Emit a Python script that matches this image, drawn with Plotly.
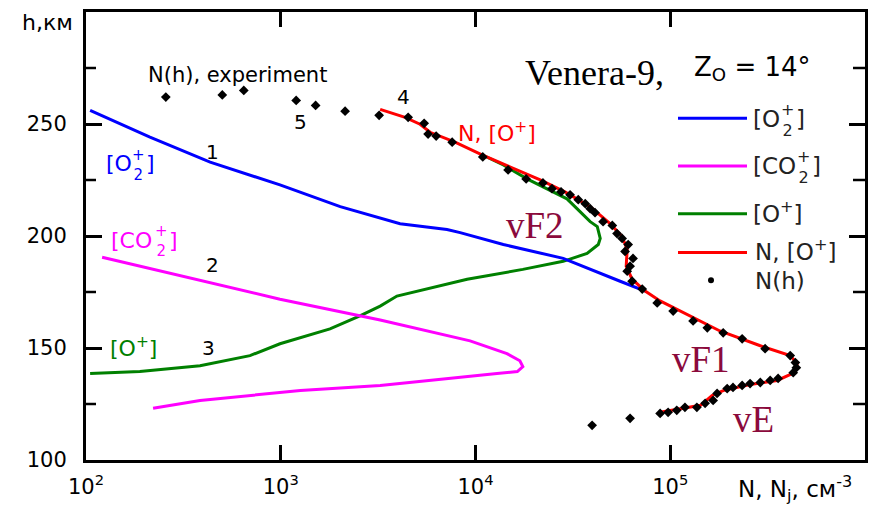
import math
import plotly.graph_objects as go

# ---------------- data ----------------
# experimental N(h) points
exp_N = [257, 501, 646, 1200, 1510, 2140, 3200, 4510, 5450, 5710, 6280, 7590, 10900, 14700,
         18200, 22200, 24700, 27500, 30600, 33700, 36600, 38800, 41100, 45200, 50400, 53300,
         56600, 60800, 58600, 64400, 62200, 60100, 63700, 71800, 85700, 103500, 131000, 155000,
         187000, 234000, 307000, 413000, 439000, 444000, 428000, 358000, 326000, 290000, 257000,
         234000, 210000, 196000, 174000, 166000, 151000, 137000, 119000, 108000, 97500, 88700,
         62200, 39700]
exp_h = [262, 263, 265, 260.5, 258.3, 255.7, 253.9, 253.0, 250.3, 245.5, 244.6, 241.9, 235.3, 229.5,
         225.5, 223.7, 221.1, 219.7, 218.4, 216.2, 214.4, 212.2, 210.4, 206.4, 204.7, 201.1,
         198.9, 196.2, 193.1, 190.0, 186.5, 184.3, 179.8, 176.3, 170.1, 166.5, 162.1, 159.0,
         156.8, 154.1, 149.7, 146.6, 143.5, 141.2, 139.0, 136.4, 135.5, 134.6, 134.1,
         133.3, 132.4, 131.9, 129.7, 126.6, 125.3, 123.5, 123.5, 122.2, 121.3, 120.8,
         118.6, 115.5]

# model N = [O+] total (curve 4)
tot_N = [3240, 4350, 5190, 5850, 7850, 10600, 15100, 21500, 28800, 38800, 49100, 56600, 60100,
         59400, 63700, 74300, 88700, 126500, 180000, 290000, 413000, 449000, 423000, 354000,
         257000, 187000, 164000, 143000, 119000, 88700]
tot_h = [256.5, 253.0, 249.9, 246.3, 241.9, 236.6, 230.8, 225.1, 219.7, 213.1, 205.5, 199.8, 194.0,
         186.5, 180.7, 175.4, 171.0, 164.3, 157.6, 151.0, 146.6, 143.0, 138.6, 135.5,
         133.7, 131.0, 128.8, 124.4, 123.1, 121.3]

# [O2+] (curve 1)
o2_N = [105, 213, 434, 991, 2020, 3240, 4100, 7140, 8340, 13900, 28200, 55300, 74300]
o2_h = [256.1, 244.1, 233.0, 222.8, 213.1, 207.8, 205.5, 202.9, 201.5, 196.2, 190.0, 179.8, 175.4]

# [CO2+] (curve 2)
co2_N = [121, 342, 991, 3240, 9380, 14500, 16900, 17500, 16400, 12900, 7140, 3240, 1260, 695, 385, 221]
co2_h = [190.5, 181.2, 171.8, 162.5, 153.2, 147.5, 144.3, 141.7, 139.5, 138.6, 136.4, 133.3,
         131.0, 128.8, 126.6, 123.1]

# [O+] (curve 3)
op_N = [105, 189, 385, 695, 991, 1260, 1790, 2550, 3240, 3950, 9060, 17500, 28200, 37400, 42700,
        43700, 42200, 38800, 29500, 18400, 13900, 10600]
op_h = [138.6, 139.5, 142.1, 146.6, 151.9, 154.5, 158.5, 164.3, 168.7, 173.2, 180.7, 185.1, 188.7,
        192.2, 196.2, 198.9, 204.2, 206.4, 216.6, 225.5, 231.7, 236.6]

x_tickvals = [1e2, 1e3, 1e4, 1e5, 1e6]
x_ticktext = ["10<sup>2</sup>", "10<sup>3</sup>", "10<sup>4</sup>", "10<sup>5</sup>", ""]
x_minor = [m * 10 ** e for e in range(2, 6) for m in range(2, 10)]
y_tickvals = [100, 150, 200, 250, 300]
y_ticktext = ["100", "150", "200", "250", ""]
y_minor = [125, 175, 225, 275]

# ---------------- styling ----------------
SANS = "DejaVu Sans, Verdana, sans-serif"
SERIF = "Liberation Serif, Times New Roman, serif"
BLUE, MAG, GREEN, RED = "#0000ff", "#ff00ff", "#008000", "#ff0000"
MAROON = "#8b0a3c"
W, H = 878, 508
L, R, T, B = 86, 13, 9, 48
PW, PH = W - L - R, H - T - B


def px(x, y):
    return (x - L) / PW, (H - B - y) / PH


fig = go.Figure()
fig.add_trace(go.Scatter(x=op_N, y=op_h, mode="lines", line=dict(color=GREEN, width=3), showlegend=False))
fig.add_trace(go.Scatter(x=o2_N, y=o2_h, mode="lines", line=dict(color=BLUE, width=3), showlegend=False))
fig.add_trace(go.Scatter(x=co2_N, y=co2_h, mode="lines", line=dict(color=MAG, width=3), showlegend=False))
fig.add_trace(go.Scatter(x=tot_N, y=tot_h, mode="lines", line=dict(color=RED, width=3), showlegend=False))
fig.add_trace(go.Scatter(x=exp_N, y=exp_h, mode="markers",
                         marker=dict(symbol="diamond", size=7.5, color="black"), showlegend=False))

anns = []


def ann(text, x, y, size=20, color="black", family=SANS, xanchor="center", yanchor="middle"):
    ax, ay = px(x, y)
    anns.append(dict(text=text, x=ax, y=ay, xref="paper", yref="paper", showarrow=False,
                     xanchor=xanchor, yanchor=yanchor, borderpad=0,
                     font=dict(size=size, color=color, family=family)))


def stacked(head, x_left, y, x_scr, x_close, size, color):
    ann(head, x_left, y, size=size, color=color, xanchor="left")
    ann("+<br>2", x_scr, y + 1, size=int(size * 0.7), color=color)
    ann("]", x_close, y, size=size, color=color, xanchor="left")


# axis captions
ann("h,км", 47, 20, size=22)
ann("N, N<sub>j</sub>, см<sup>-3</sup>", 795, 489, size=23)
# title-like text
ann("Venera-9,", 594, 70, size=36, family=SERIF)
ann("Z<sub>O</sub> = 14°", 752, 66, size=26)
ann("N(h), experiment", 237, 72, size=21)
# curve numbers
ann("1", 212, 150, size=20)
ann("2", 212, 264, size=20)
ann("3", 208, 347, size=20)
ann("4", 403, 95, size=20)
ann("5", 300, 120, size=20)
# in-plot species labels
stacked("[O", 105, 162, 138, 145, 22, BLUE)
stacked("[CO", 110, 239, 161, 168, 22, MAG)
ann("[O<sup>+</sup>]", 109, 346, size=22, color=GREEN, xanchor="left")
ann("N, [O<sup>+</sup>]", 457, 130, size=22, color=RED, xanchor="left")
# layer names
ann("vF2", 535, 224, size=37, color=MAROON, family=SERIF)
ann("vF1", 701, 359, size=37, color=MAROON, family=SERIF)
ann("vE", 753, 419, size=37, color=MAROON, family=SERIF)

shapes = []

# minor ticks, placed with the axes' own scales (x in log10 units for a log axis)
for v in x_minor:
    lv = math.log10(v)
    shapes.append(dict(type="line", xref="x", yref="paper", x0=lv, x1=lv, y0=0, y1=8 / PH,
                       line=dict(color="black", width=2.5), layer="above"))
    shapes.append(dict(type="line", xref="x", yref="paper", x0=lv, x1=lv, y0=1 - 6 / PH, y1=1,
                       line=dict(color="black", width=2.5), layer="above"))
for v in y_minor:
    shapes.append(dict(type="line", xref="paper", yref="y", x0=0, x1=10 / PW, y0=v, y1=v,
                       line=dict(color="black", width=2.5), layer="above"))
    shapes.append(dict(type="line", xref="paper", yref="y", x0=1 - 12 / PW, x1=1, y0=v, y1=v,
                       line=dict(color="black", width=2.5), layer="above"))

# manual legend
LEGC = "#222222"
leg_cols = [BLUE, MAG, GREEN, RED]
leg_y = [116, 164, 212, 251]
for col, yy in zip(leg_cols, leg_y):
    x0, y0 = px(678, yy)
    x1, _ = px(747, yy)
    shapes.append(dict(type="line", xref="paper", yref="paper", x0=x0, x1=x1, y0=y0, y1=y0,
                       line=dict(color=col, width=3)))
stacked("[O", 752, 117, 787, 795, 23, LEGC)
stacked("[CO", 752, 164, 803, 811, 23, LEGC)
ann("[O<sup>+</sup>]", 752, 210, size=23, color=LEGC, xanchor="left")
ann("N, [O<sup>+</sup>]", 754, 249, size=23, color=LEGC, xanchor="left")
dx, dy = px(711, 279)
shapes.append(dict(type="circle", xref="paper", yref="paper", xsizemode="pixel", ysizemode="pixel",
                   xanchor=dx, yanchor=dy, x0=-3, x1=3, y0=-3, y1=3,
                   fillcolor="black", line=dict(color="black", width=0)))
ann("N(h)", 754, 280, size=23, color=LEGC, xanchor="left")

fig.update_layout(
    width=W, height=H, margin=dict(l=L, r=R, t=T, b=B),
    paper_bgcolor="white", plot_bgcolor="white",
    annotations=anns, shapes=shapes, showlegend=False,
    font=dict(family=SANS, color="black"),
    xaxis=dict(type="log", range=[2, 6], showgrid=False, zeroline=False,
               showline=True, linecolor="black", linewidth=3, mirror="ticks",
               ticks="inside", ticklen=15, tickwidth=3, tickcolor="black",
               tickmode="array", tickvals=x_tickvals, ticktext=x_ticktext,
               tickfont=dict(size=21, family=SANS, color="black"),
               ticklabelstandoff=6),
    yaxis=dict(range=[100, 300], showgrid=False, zeroline=False,
               showline=True, linecolor="black", linewidth=3, mirror="ticks",
               ticks="inside", ticklen=16, tickwidth=3, tickcolor="black",
               tickmode="array", tickvals=y_tickvals, ticktext=y_ticktext,
               tickfont=dict(size=21, family=SANS, color="black"),
               ticklabelstandoff=12),
)

fig.write_html("out.html")
